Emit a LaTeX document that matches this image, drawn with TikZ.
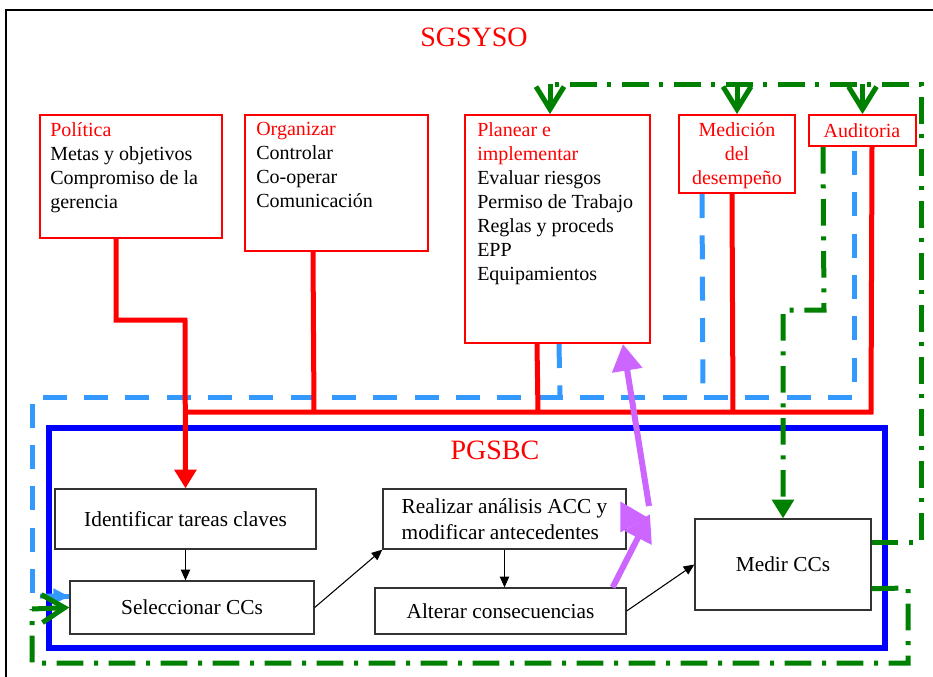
\documentclass[tikz,border=0pt]{standalone}
\usepackage{fontspec}
\setmainfont{Liberation Serif}
\usetikzlibrary{arrows.meta,calc,fit}

\definecolor{sgred}{RGB}{255,0,0}
\definecolor{pgblue}{RGB}{0,0,255}
\definecolor{dashblue}{RGB}{51,153,255}
\definecolor{loopgreen}{RGB}{0,128,0}
\definecolor{lila}{RGB}{204,102,255}

\begin{document}
\begin{tikzpicture}[x=0.75pt,y=0.75pt,yscale=-1,xscale=1,
    redbox/.style={draw=sgred, line width=1.5pt, inner sep=0pt},
    toptext/.style={anchor=north west, align=left, inner sep=0pt, font=\fontsize{15}{18}\selectfont},
    stepbox/.style={draw=black!80, line width=1pt, font=\fontsize{16}{19.5}\selectfont},
    redline/.style={draw=sgred, line width=3.75pt},
    blueline/.style={draw=dashblue, line width=3.75pt, dash pattern=on 18pt off 13pt},
    greenline/.style={draw=loopgreen, line width=3.75pt, dash pattern=on 20pt off 8pt on 3pt off 8pt},
    lilaline/.style={draw=lila, line width=4.5pt, -{Triangle[length=20pt,width=22pt]}},
    thinarrow/.style={draw=black, line width=0.8pt, -{Triangle[length=8pt,width=7pt]}},
    barb/.style={-{Straight Barb[length=17pt,width=21pt]}}
  ]
  \useasboundingbox (0,0) rectangle (933,676);

  % outer frame
  \draw[line width=1.5pt] (6,690) -- (6,10) -- (945,10);
  \node[text=sgred, font=\fontsize{21}{24}\selectfont] (sgsyso) at (474,37) {SGSYSO};

  % top boxes
  \node[redbox, fit={(40,115) (222,238)}] (pol) {};
  \node[toptext] (poltext) at (50,122) {\textcolor{sgred}{Política}\\Metas y objetivos\\Compromiso de la\\gerencia};
  \node[redbox, fit={(245,115) (428,251)}] (org) {};
  \node[toptext] (orgtext) at (256,122) {\textcolor{sgred}{Organizar}\\Controlar\\Co-operar\\Comunicación};
  \node[redbox, fit={(465,115) (650,343)}] (plan) {};
  \node[toptext] (plantext) at (477,122) {\textcolor{sgred}{Planear e}\\\textcolor{sgred}{implementar}\\Evaluar riesgos\\Permiso de Trabajo\\Reglas y proceds\\EPP\\Equipamientos};
  \node[redbox, fit={(679,115) (795,193)}] (med) {};
  \node[toptext, anchor=north, align=center, text=sgred] (medtext) at (737,122) {Medición\\del\\desempeño};
  \node[redbox, fit={(809,115) (916,146)}] (aud) {};
  \node[text=sgred, inner sep=0pt, font=\fontsize{15}{18}\selectfont] (audtext) at (862,131) {Auditoria};

  % PGSBC frame
  \node[draw=pgblue, line width=4.5pt, inner sep=0pt, fit={(49,428) (885,648)}] (pgsbc) {};
  \node[text=sgred, font=\fontsize{21}{24}\selectfont] (pgtitle) at (495,450) {PGSBC};

  % steps
  \node[stepbox, minimum width=195.75pt, minimum height=45pt] (ident) at (185.5,519) {Identificar tareas claves};
  \node[stepbox, minimum width=183pt, minimum height=39.75pt] (selec) at (192,607.5) {Seleccionar CCs};
  \node[stepbox, minimum width=182.25pt, minimum height=45pt, align=left] (real) at (504.5,519) {Realizar análisis ACC y\\modificar antecedentes};
  \node[stepbox, minimum width=188.25pt, minimum height=34.5pt] (alter) at (500.5,611) {Alterar consecuencias};
  \node[stepbox, minimum width=132pt, minimum height=68.25pt] (medir) at (783,564.5) {Medir CCs};

  % blue dashed feedback
  \draw[blueline] ($(aud.south west)+(46,4)$) |- (32,397) |- ($(selec.west)+(0,-11)$);
  \draw[blueline, -{Triangle[length=12pt,width=11pt]}] (40,596) -- ($(selec.west)+(0,-11)$);
  \draw[blueline] ($(med.south west)+(24,0)$) -- (703,397);
  \draw[blueline] ($(plan.south west)+(95,0)$) -- (560,397);

  % red links
  \coordinate (busL) at (185,412);
  \coordinate (busR) at (871,412);
  \draw[redline, -{Triangle[length=14pt,width=16pt]}] ($(pol.south west)+(77,0)$) |- (185,320) -- (ident.north);
  \draw[redline] (busL) -- (busR) -- ($(aud.south east)+(-45,0)$);
  \draw[redline] ($(org.south west)+(69,0)$) -- (314,412);
  \draw[redline] ($(plan.south west)+(73,0)$) -- (538,412);
  \draw[redline] ($(med.south west)+(54,0)$) -- (733,412);

  % black flow
  \draw[thinarrow] (ident.south) -- (ident.south |- selec.north);
  \draw[thinarrow] (selec.east) -- (real.south west);
  \draw[thinarrow] (real.south) -- (real.south |- alter.north);
  \draw[thinarrow] (alter.east) -- (medir.west);

  % green loops
  \draw[greenline] ($(medir.north east)+(0,24)$) -| (921,84) -- (550,84);
  \draw[greenline, barb] (550,84) -- (550,84 |- plan.north);
  \draw[greenline, barb] (med.north |- 0,84) -- (med.north);
  \draw[greenline, barb] (aud.north |- 0,84) -- (aud.north);
  \draw[greenline, -{Triangle[length=14pt,width=16pt]}] ($(aud.south west)+(15,0)$) -- (824,310) -| (medir.north);
  \draw[greenline] ($(medir.south east)+(0,-22)$) -- (908,588) -- (908,663) -- (32,663) -- (32,609);
  \draw[draw=loopgreen, line width=3.75pt, barb] (32,609) -- (selec.west);

  % lila links
  \coordinate (junc) at (650,514);
  \draw[lilaline] ($(alter.north east)+(-14,0)$) -- (junc);
  \draw[lilaline] ($(real.east)+(-6,-2)$) -- (647,517);
  \draw[lilaline] (649,506) -- ($(plan.south east)+(-28,0)$);
\end{tikzpicture}
\end{document}
